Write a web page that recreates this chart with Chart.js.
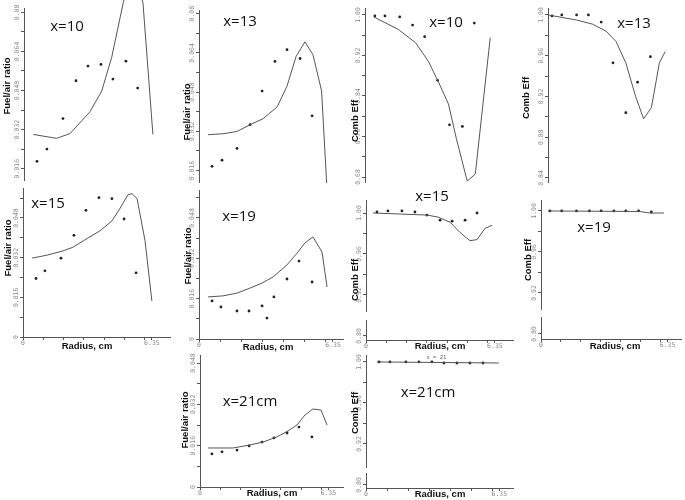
<!DOCTYPE html>
<html><head><meta charset="utf-8">
<script src="https://cdn.jsdelivr.net/npm/chart.js@4.4.1/dist/chart.umd.min.js"></script>
<style>
html,body{margin:0;padding:0;background:#fff;}
#wrap{position:relative;width:685px;height:500px;overflow:hidden;background:#fff;}
canvas{position:absolute;}
</style></head><body><div id="wrap"></div>
<script>
// ---------- DATA (radius in cm) ----------
// Fuel/air ratio, x=10
const fa10PtR = [0.64,1.13,1.92,2.56,3.15,3.79,4.38,5.02,5.60];
const fa10PtV = [0.019,0.024,0.0365,0.052,0.058,0.0587,0.0527,0.060,0.049];
const fa10LnR = [0.46,1.61,2.27,3.25,3.83,4.32,4.89,5.40,5.86,6.35];
const fa10LnV = [0.030,0.0284,0.0304,0.0393,0.0478,0.0616,0.084,0.098,0.084,0.030];
// Fuel/air ratio, x=13
const fa13PtR = [0.62,1.09,1.80,2.42,2.99,3.60,4.17,4.79,5.36];
const fa13PtV = [0.0177,0.0202,0.025,0.0347,0.0484,0.0605,0.0653,0.0617,0.0383];
const fa13LnR = [0.43,1.14,1.80,2.42,3.03,3.70,4.17,4.60,5.02,5.40,5.81,6.05];
const fa13LnV = [0.0306,0.031,0.0319,0.0347,0.0371,0.0419,0.0504,0.0625,0.0685,0.0633,0.0485,0.0109];
// Comb Eff, x=10
const ce10PtR = [0.49,0.99,1.72,2.36,2.96,3.60,4.19,4.83,5.42];
const ce10PtV = [0.998,0.998,0.996,0.980,0.957,0.871,0.783,0.780,0.984];
const ce10LnR = [0.44,1.67,2.51,3.15,3.65,4.14,4.53,5.07,5.47,6.21];
const ce10LnV = [0.996,0.971,0.945,0.908,0.867,0.824,0.756,0.672,0.686,0.955];
// Comb Eff, x=13
const ce13PtR = [0.20,0.69,1.43,2.02,2.66,3.25,3.89,4.48,5.12];
const ce13PtV = [0.999,1.0,1.0,1.0,0.993,0.953,0.904,0.934,0.959];
const ce13LnR = [0.0,1.43,2.22,2.91,3.40,3.89,4.38,4.78,5.17,5.57,5.86];
const ce13LnV = [1.0,0.995,0.991,0.984,0.974,0.953,0.920,0.898,0.909,0.953,0.964];
// Fuel/air ratio, x=15
const fa15PtR = [0.64,1.08,1.87,2.51,3.10,3.74,4.38,4.98,5.57];
const fa15PtV = [0.0236,0.0267,0.0318,0.041,0.0511,0.0562,0.0558,0.0476,0.0259];
const fa15LnR = [0.44,1.18,1.92,2.46,3.15,3.79,4.38,4.78,5.17,5.37,5.62,6.01,6.35];
const fa15LnV = [0.0318,0.033,0.0346,0.0362,0.0397,0.0428,0.0468,0.0519,0.0574,0.0578,0.0558,0.0389,0.0145];
// Fuel/air ratio, x=19
const fa19PtR = [0.62,1.04,1.80,2.37,2.99,3.22,3.55,4.17,4.74,5.36];
const fa19PtV = [0.0151,0.0127,0.0111,0.0111,0.0131,0.0083,0.0167,0.0238,0.0309,0.0226];
const fa19LnR = [0.43,1.14,1.80,2.42,2.99,3.51,4.17,4.69,5.02,5.40,5.83,6.07];
const fa19LnV = [0.0167,0.0171,0.0182,0.0202,0.0222,0.0246,0.0294,0.0345,0.0381,0.0405,0.0345,0.0206];
// Comb Eff, x=15
const ce15PtR = [0.54,1.08,1.77,2.41,3.00,3.65,4.24,4.88,5.47];
const ce15PtV = [1.001,1.002,1.002,1.001,0.998,0.993,0.992,0.993,1.000];
const ce15LnR = [0.34,1.67,3.00,3.55,4.14,4.63,5.12,5.47,5.86,6.21];
const ce15LnV = [1.0,0.999,0.998,0.996,0.991,0.981,0.973,0.974,0.985,0.988];
// Comb Eff, x=19
const ce19PtR = [0.45,1.04,1.78,2.43,3.02,3.66,4.26,4.90,5.54];
const ce19PtV = [1.0,1.0,1.0,1.0,1.0,1.0,1.0,1.0,0.999];
const ce19LnR = [0.35,4.95,5.45,6.18];
const ce19LnV = [1.0,0.9995,0.998,0.998];
// Fuel/air ratio, x=21
const fa21PtR = [0.59,1.09,1.83,2.43,3.07,3.66,4.31,4.90,5.54];
const fa21PtV = [0.0128,0.0136,0.0143,0.0159,0.0174,0.019,0.0209,0.0232,0.0194];
const fa21LnR = [0.40,1.63,2.48,3.12,3.81,4.36,4.80,5.20,5.59,5.99,6.29];
const fa21LnV = [0.0151,0.0151,0.0163,0.0174,0.0194,0.0217,0.024,0.0279,0.0302,0.0298,0.024];
// Comb Eff, x=21
const ce21PtR = [0.62,1.14,1.90,2.52,3.14,3.71,4.33,4.95,5.57];
const ce21PtV = [1.0,1.0,1.0,1.0,1.0,0.999,0.999,0.999,0.999];
const ce21LnR = [0.52,6.33];
const ce21LnV = [1.0,0.999];

// ---------- TICKS ----------
const faTickVals = [0,0.008,0.016,0.024,0.032,0.040,0.048,0.056,0.064,0.072,0.08];
const faTickLabels = ['0','','0.016','','0.032','','0.048','','0.064','','0.08'];
const ce10TickVals = [0.68,0.72,0.76,0.80,0.84,0.88,0.92,0.96,1.00];
const ce10TickLabels = ['0.68','','0.76','','0.84','','0.92','','1.00'];
const ce13TickVals = [0.84,0.86,0.88,0.90,0.92,0.94,0.96,0.98,1.00];
const ce13TickLabels = ['0.84','','0.88','','0.92','','0.96','','1.00'];
const ceLowTickVals = [0.88,0.92,0.94,0.96,0.98,1.00];
const ceLowTickLabels = ['0.80','0.92','','0.96','','1.00'];
const radiusTickVals = [0,1,2,3,4,5,6,6.35];
const radiusTickLabels = ['0','','','','','','','6.35'];

const FA_TITLE = 'Fuel/air ratio', CE_TITLE = 'Comb Eff', R_TITLE = 'Radius, cm';

// ---------- PANELS (layout only) ----------
const panels = [
 {cx:0,cy:0,cw:180,ch:184, L:24,T:8,R:172,B:182, ymin:0.01134,ymax:0.0818, ppc:20.3, showX:false,
  ptR:fa10PtR,ptV:fa10PtV,lnR:fa10LnR,lnV:fa10LnV, yt:faTickVals,yl:faTickLabels, ytitle:FA_TITLE, ytp:[7,86], ann:'x=10', ap:[67,27]},
 {cx:172,cy:0,cw:178,ch:186, L:199,T:10,R:345,B:184, ymin:0.0113,ymax:0.0815, ppc:21.1, showX:false,
  ptR:fa13PtR,ptV:fa13PtV,lnR:fa13LnR,lnV:fa13LnV, yt:faTickVals,yl:faTickLabels, ytitle:FA_TITLE, ytp:[187,112], ann:'x=13', ap:[240,22]},
 {cx:340,cy:0,cw:178,ch:186, L:365,T:8,R:515,B:184, ymin:0.6702,ymax:1.0137, ppc:20.3, showX:false,
  ptR:ce10PtR,ptV:ce10PtV,lnR:ce10LnR,lnV:ce10LnV, yt:ce10TickVals,yl:ce10TickLabels, ytitle:CE_TITLE, ytp:[355,121], ann:'x=10', ap:[446,23]},
 {cx:515,cy:0,cw:170,ch:186, L:548,T:8,R:683,B:184, ymin:0.836,ymax:1.0068, ppc:20.3, showX:false,
  ptR:ce13PtR,ptV:ce13PtV,lnR:ce13LnR,lnV:ce13LnV, yt:ce13TickVals,yl:ce13TickLabels, ytitle:CE_TITLE, ytp:[526,98], ann:'x=13', ap:[634,24]},
 {cx:0,cy:184,cw:175,ch:170, L:23,T:184,R:170,B:337, ymin:0,ymax:0.0601, ppc:20.3, showX:true,
  ptR:fa15PtR,ptV:fa15PtV,lnR:fa15LnR,lnV:fa15LnV, yt:faTickVals,yl:faTickLabels, ytitle:FA_TITLE, ytp:[8,248], ann:'x=15', ap:[48,204], xtp:[87,346]},
 {cx:172,cy:186,cw:178,ch:168, L:199,T:190,R:343,B:339, ymin:0,ymax:0.0591, ppc:21.1, showX:true,
  ptR:fa19PtR,ptV:fa19PtV,lnR:fa19LnR,lnV:fa19LnV, yt:faTickVals,yl:faTickLabels, ytitle:FA_TITLE, ytp:[188,256], ann:'x=19', ap:[239,217], xtp:[268,347]},
 {cx:340,cy:190,cw:178,ch:164, L:366,T:200,R:513,B:340, ymin:0.876,ymax:1.0127, ppc:20.3, showX:true, brk:[0.896,0.903],
  ptR:ce15PtR,ptV:ce15PtV,lnR:ce15LnR,lnV:ce15LnV, yt:ceLowTickVals,yl:ceLowTickLabels, ytitle:CE_TITLE, ytp:[355,280], ann:'x=15', ap:[432,197], xtp:[440,346]},
 {cx:515,cy:190,cw:170,ch:164, L:541,T:200,R:683,B:339, ymin:0.875,ymax:1.0107, ppc:20.2, showX:true, brk:[0.896,0.903],
  ptR:ce19PtR,ptV:ce19PtV,lnR:ce19LnR,lnV:ce19LnV, yt:ceLowTickVals,yl:ceLowTickLabels, ytitle:CE_TITLE, ytp:[528,260], ann:'x=19', ap:[594,228], xtp:[615,346]},
 {cx:172,cy:350,cw:178,ch:150, L:200,T:355,R:343,B:487, ymin:0,ymax:0.0511, ppc:20.2, showX:true,
  ptR:fa21PtR,ptV:fa21PtV,lnR:fa21LnR,lnV:fa21LnV, yt:faTickVals,yl:faTickLabels, ytitle:FA_TITLE, ytp:[185,420], ann:'x=21cm', ap:[250,402], xtp:[272,493]},
 {cx:340,cy:350,cw:178,ch:150, L:366,T:355,R:513,B:488, ymin:0.877,ymax:1.0068, ppc:21.0, showX:true, brk:[0.892,0.897], small:'x = 21',
  ptR:ce21PtR,ptV:ce21PtV,lnR:ce21LnR,lnV:ce21LnV, yt:ceLowTickVals,yl:ceLowTickLabels, ytitle:CE_TITLE, ytp:[355,413], ann:'x=21cm', ap:[428,393], xtp:[440,494]}
];

const wrap = document.getElementById('wrap');
const AXIS = '#555';

function makeTextPlugin(p){
  return {
    id:'txt',
    afterDraw(chart){
      const ctx = chart.ctx, ys = chart.scales.y, xs = chart.scales.x;
      ctx.save();
      if (p.brk){
        const y1 = ys.getPixelForValue(p.brk[0]), y2 = ys.getPixelForValue(p.brk[1]);
        ctx.clearRect(ys.right-4, y2, 8, y1-y2);
      }
      ctx.font = '6.5px "DejaVu Sans Mono"';
      ctx.fillStyle = '#8a8a8a';
      p.yt.forEach((v,i)=>{
        const lab = p.yl[i];
        if(!lab || v < ys.min-1e-9 || v > ys.max+1e-9) return;
        const y = ys.getPixelForValue(v);
        ctx.save(); ctx.translate(ys.right-3, y); ctx.rotate(-Math.PI/2);
        ctx.textAlign='center'; ctx.textBaseline='bottom'; ctx.fillText(lab,0,0); ctx.restore();
      });
      if (p.showX){
        radiusTickVals.forEach((v,i)=>{
          const lab = radiusTickLabels[i]; if(!lab) return;
          const x = xs.getPixelForValue(v);
          ctx.textAlign='center'; ctx.textBaseline='top';
          ctx.fillText(lab, x, xs.top+3);
        });
        ctx.fillStyle='#111'; ctx.font='bold 9.5px "Liberation Sans"';
        ctx.textAlign='center'; ctx.textBaseline='middle';
        ctx.fillText(R_TITLE, p.xtp[0]-p.cx, p.xtp[1]-p.cy);
      }
      ctx.fillStyle='#111'; ctx.font='bold 9.5px "Liberation Sans"';
      ctx.save(); ctx.translate(p.ytp[0]-p.cx, p.ytp[1]-p.cy); ctx.rotate(-Math.PI/2);
      ctx.textAlign='center'; ctx.textBaseline='middle'; ctx.fillText(p.ytitle,0,0); ctx.restore();
      ctx.font='15px "Open Sans"'; ctx.fillStyle='#111';
      ctx.textAlign='center'; ctx.textBaseline='middle';
      ctx.fillText(p.ann, p.ap[0]-p.cx, p.ap[1]-p.cy);
      if (p.small){
        ctx.font='5.5px "DejaVu Sans Mono"'; ctx.fillStyle='#666';
        ctx.fillText(p.small, xs.getPixelForValue(3.35), ys.getPixelForValue(1.0)-4);
      }
      ctx.restore();
    }
  };
}

panels.forEach(p=>{
  const cv = document.createElement('canvas');
  cv.width = p.cw; cv.height = p.ch;
  cv.style.left = p.cx+'px'; cv.style.top = p.cy+'px';
  cv.style.width = p.cw+'px'; cv.style.height = p.ch+'px';
  wrap.appendChild(cv);
  const left = p.L - p.cx, top = p.T - p.cy, right = p.cx + p.cw - p.R, bottom = p.cy + p.ch - p.B;
  new Chart(cv, {
    type:'scatter',
    data:{datasets:[
      {data:p.lnR.map((r,i)=>({x:r,y:p.lnV[i]})), showLine:true, borderColor:'#555', borderWidth:1,
       pointRadius:0, fill:false, tension:0, clip:10},
      {data:p.ptR.map((r,i)=>({x:r,y:p.ptV[i]})), showLine:false, pointRadius:1.4,
       backgroundColor:'#222', borderColor:'#222', borderWidth:0}
    ]},
    options:{
      responsive:false, animation:false, devicePixelRatio:1,
      layout:{padding:{top:top, right:right, left:0, bottom:p.showX?0:bottom}},
      plugins:{legend:{display:false}, tooltip:{enabled:false}},
      scales:{
        x:{type:'linear', min:0, max:(p.R-p.L)/p.ppc, display:p.showX,
           afterBuildTicks:s=>{s.ticks = radiusTickVals.map(v=>({value:v}));},
           ticks:{display:false},
           grid:{drawOnChartArea:false, drawTicks:true, tickLength:3, color:AXIS},
           border:{display:true, color:AXIS, width:1},
           afterFit:s=>{s.height = bottom;}},
        y:{type:'linear', min:p.ymin, max:p.ymax,
           afterBuildTicks:s=>{s.ticks = p.yt.filter(v=>v>=p.ymin-1e-9 && v<=p.ymax+1e-9).map(v=>({value:v}));},
           ticks:{display:false},
           grid:{drawOnChartArea:false, drawTicks:true, tickLength:3, color:AXIS},
           border:{display:true, color:AXIS, width:1},
           afterFit:s=>{s.width = left;}}
      }
    },
    plugins:[makeTextPlugin(p)]
  });
});
</script>
</body></html>
